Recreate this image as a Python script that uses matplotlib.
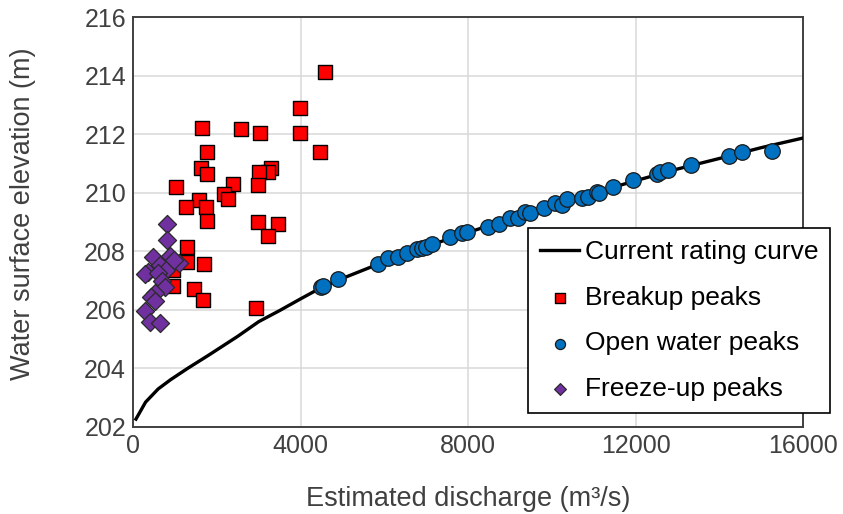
import matplotlib
matplotlib.use("Agg")
import matplotlib.pyplot as plt

plt.rcParams["font.family"] = ["Liberation Sans", "DejaVu Sans"]

# Current rating curve
curve_q = [70, 300, 600, 900, 1300, 1800, 2500, 3000, 3500, 4000, 4500, 5000,
           6000, 7000, 8000, 9000, 10000, 11000, 12000, 13000, 14000, 15000, 16000]
curve_h = [202.27, 202.85, 203.3, 203.62, 204.0, 204.45, 205.1, 205.6, 205.98, 206.38,
           206.77, 207.08, 207.65, 208.17, 208.65, 209.12, 209.57, 210.0, 210.42,
           210.82, 211.18, 211.55, 211.88]

# Breakup peaks
breakup_q = [4585, 3980, 3980, 4458, 1655, 2579, 3025, 1775, 1616, 1775, 3296, 3216,
             3000, 2976, 2380, 1019, 2182, 2261, 1576, 1258, 1751, 1775, 2976, 3455,
             3216, 1296, 1282, 1696, 963, 963, 1457, 1664, 2940]
breakup_h = [214.14, 212.9, 212.04, 211.41, 212.23, 212.2, 212.04, 211.4, 210.84, 210.66,
             210.84, 210.72, 210.71, 210.26, 210.32, 210.19, 209.96, 209.79, 209.75,
             209.52, 209.51, 209.04, 209.0, 208.94, 208.52, 208.16, 207.63, 207.56,
             207.35, 206.82, 206.71, 206.34, 206.07]

# Open water peaks
open_q = [4482, 4545, 4889, 5844, 6083, 6336, 6551, 6775, 6909, 6997, 7133, 7570, 7849,
          7969, 8485, 8748, 9003, 9201, 9361, 9481, 9815, 10078, 10237, 10357, 10715,
          10872, 11073, 11135, 11453, 11946, 12505, 12584, 12782, 13317, 14240, 14537,
          15252]
open_h = [206.8, 206.82, 207.07, 207.57, 207.76, 207.81, 207.94, 208.07, 208.13, 208.16,
          208.27, 208.49, 208.62, 208.68, 208.85, 208.95, 209.13, 209.13, 209.34, 209.3,
          209.5, 209.67, 209.6, 209.78, 209.82, 209.87, 210.02, 209.99, 210.21, 210.43,
          210.66, 210.72, 210.77, 210.94, 211.28, 211.4, 211.45]

# Freeze-up peaks
freeze_q = [820, 820, 480, 880, 1100, 640, 780, 360, 290, 600, 700, 980, 760, 520, 420,
            520, 290, 400, 640]
freeze_h = [208.95, 208.38, 207.82, 207.85, 207.62, 207.55, 207.38, 207.3, 207.22, 207.25,
            207.0, 207.7, 206.8, 206.58, 206.45, 206.3, 205.97, 205.58, 205.55]

text_col = "#404040"
fs = 18

fig = plt.figure(figsize=(8.43, 5.14), dpi=100)
ax = fig.add_axes([0.1578, 0.1693, 0.795, 0.7967])

ax.plot(curve_q, curve_h, color="black", lw=2.4, label="Current rating curve", zorder=3)
ax.scatter(breakup_q, breakup_h, marker="s", s=105, facecolor="#ff0000",
           edgecolor="black", linewidth=1.0, label="Breakup peaks", zorder=4)
ax.scatter(open_q, open_h, marker="o", s=125, facecolor="#0070c0",
           edgecolor="#1a1a1a", linewidth=0.9, label="Open water peaks", zorder=5)
ax.scatter(freeze_q, freeze_h, marker="D", s=85, facecolor="#7030a0",
           edgecolor="#2a2a2a", linewidth=0.9, label="Freeze-up peaks", zorder=6)

ax.set_xlim(0, 16000)
ax.set_ylim(202, 216)
ax.set_xticks([0, 4000, 8000, 12000, 16000])
ax.set_yticks(range(202, 217, 2))
ax.grid(True, color="#d9d9d9", lw=1.1)
ax.set_axisbelow(True)
ax.tick_params(length=0, labelsize=fs, labelcolor=text_col, pad=5)
for s in ax.spines.values():
    s.set_color("#404040")
    s.set_linewidth(1.4)

ax.set_xlabel("Estimated discharge (m³/s)", fontsize=19.5, color=text_col)
ax.set_ylabel("Water surface elevation (m)", fontsize=19.5, color=text_col)
ax.xaxis.set_label_coords(0.5, -0.145)
ax.yaxis.set_label_coords(-0.145, 0.52)

leg = ax.legend(loc="lower left", bbox_to_anchor=(528 / 843, 1 - 413 / 514),
                bbox_transform=fig.transFigure, fontsize=19, frameon=True,
                fancybox=False, edgecolor="black", framealpha=1, markerscale=0.65,
                handlelength=1.5, handletextpad=0.2, labelspacing=0.82,
                borderpad=0.45, borderaxespad=0)
leg.get_frame().set_linewidth(1.2)
for t in leg.get_texts():
    t.set_color("black")

fig.savefig("out.png", dpi=100)
